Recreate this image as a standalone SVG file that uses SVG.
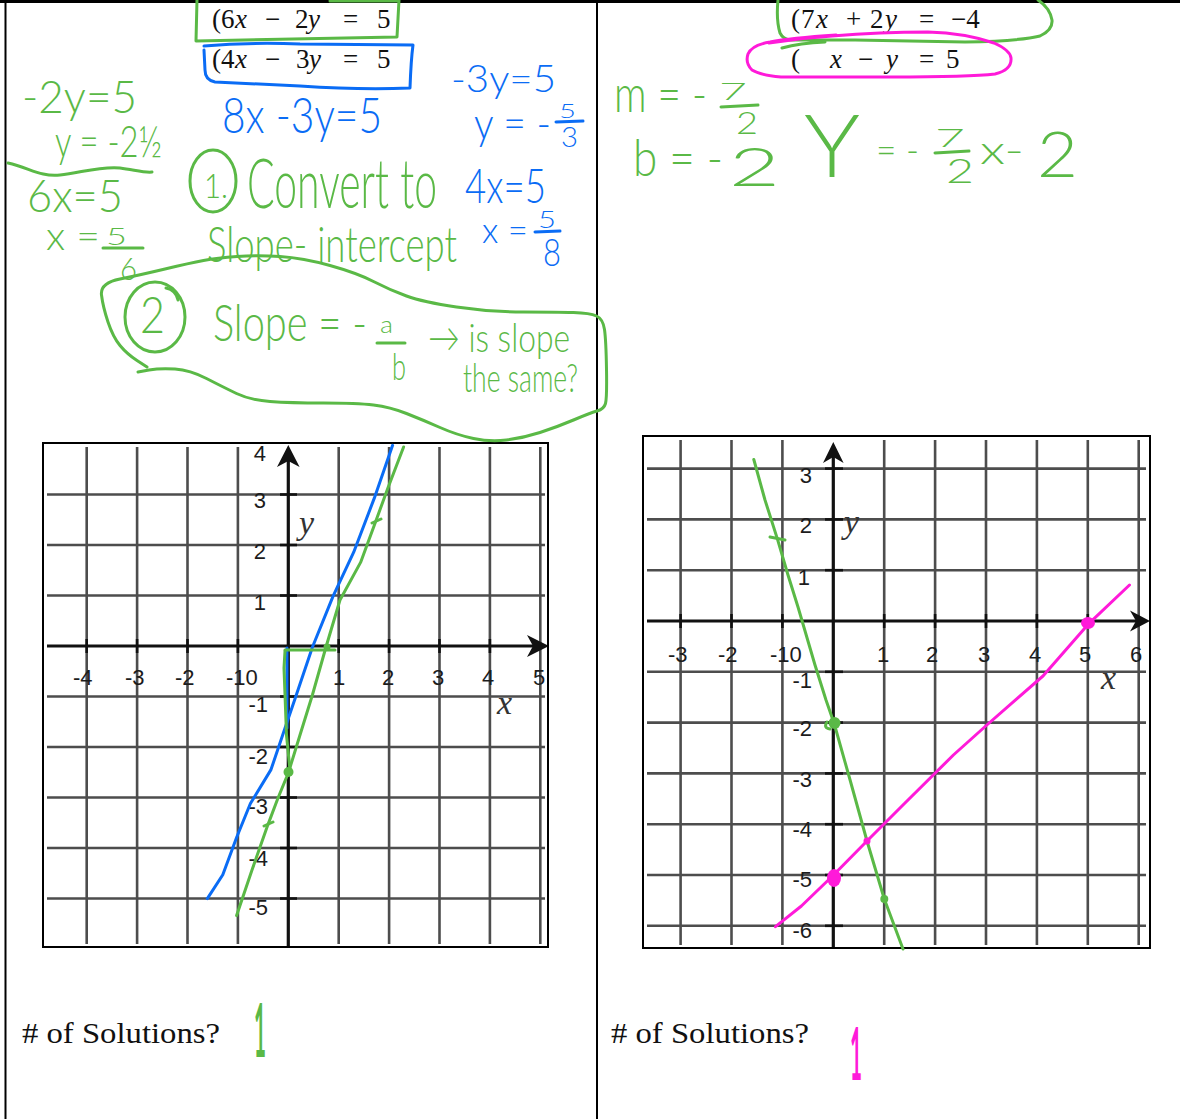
<svg xmlns="http://www.w3.org/2000/svg" width="1180" height="1119" viewBox="0 0 1180 1119">
<style>
.hw{font-family:Lato,"Open Sans","Liberation Sans",sans-serif;font-weight:300}
.g{fill:#5ab946}.b{fill:#0a6cf5}.m{fill:#ff1ad9}
.gs{fill:none;stroke:#5ab946;stroke-width:3;stroke-linecap:round;stroke-linejoin:round}
.bs{fill:none;stroke:#0a6cf5;stroke-width:3;stroke-linecap:round;stroke-linejoin:round}
.ms{fill:none;stroke:#ff1ad9;stroke-width:3;stroke-linecap:round;stroke-linejoin:round}
.grid{stroke:#3a3a3a;stroke-width:2.6;opacity:0.9}
.axis{stroke:#111;stroke-width:3.2}
.tick{stroke:#111;stroke-width:2.6}
.frame{fill:none;stroke:#000;stroke-width:2}
.lbl{font-family:"Liberation Sans",Arial,sans-serif;font-size:22px;fill:#1c1c1c}
.var{font-family:"Liberation Serif","Times New Roman",serif;font-style:italic;font-size:34px;fill:#333}
.eq{font-family:"Liberation Serif","Times New Roman",serif;font-size:27px;fill:#111}
.it{font-style:italic}
.sol{font-family:"Liberation Serif","Times New Roman",serif;font-size:30px;fill:#111}
.one{font-family:Lato,"Liberation Sans",sans-serif;font-weight:700}
</style>
<defs>
<clipPath id="clipL"><rect x="43" y="443" width="505" height="504"/></clipPath>
<clipPath id="clipR"><rect x="643" y="436" width="507" height="512"/></clipPath>
</defs>
<rect width="1180" height="1119" fill="#fff"/>

<g id="panel-borders" stroke="#000" fill="none">
<line x1="0" y1="1.5" x2="1180" y2="1.5" stroke-width="3"/>
<line x1="5.5" y1="0" x2="5.5" y2="1119" stroke-width="2"/>
<line x1="597" y1="0" x2="597" y2="1119" stroke-width="2"/>
</g>

<g id="equations-left">
<text class="eq" y="28"><tspan x="212">(</tspan><tspan x="221">6</tspan><tspan x="235" class="it">x</tspan><tspan x="265">−</tspan><tspan x="295">2</tspan><tspan x="308" class="it">y</tspan><tspan x="343">=</tspan><tspan x="377">5</tspan></text>
<text class="eq" y="68"><tspan x="212">(</tspan><tspan x="221">4</tspan><tspan x="235" class="it">x</tspan><tspan x="265">−</tspan><tspan x="296">3</tspan><tspan x="309" class="it">y</tspan><tspan x="343">=</tspan><tspan x="377">5</tspan></text>
</g>
<g id="equations-right">
<text class="eq" y="28"><tspan x="791">(</tspan><tspan x="801">7</tspan><tspan x="816" class="it">x</tspan><tspan x="846">+</tspan><tspan x="870">2</tspan><tspan x="885" class="it">y</tspan><tspan x="919">=</tspan><tspan x="951">−4</tspan></text>
<text class="eq" y="68"><tspan x="791">(</tspan><tspan x="830" class="it">x</tspan><tspan x="858">−</tspan><tspan x="886" class="it">y</tspan><tspan x="919">=</tspan><tspan x="946">5</tspan></text>
</g>

<!-- Left graph -->
<g id="graph-left">
<g clip-path="url(#clipL)">
<g class="grid">
<line x1="86.7" y1="447" x2="86.7" y2="944"/>
<line x1="137.1" y1="447" x2="137.1" y2="944"/>
<line x1="187.5" y1="447" x2="187.5" y2="944"/>
<line x1="237.9" y1="447" x2="237.9" y2="944"/>
<line x1="338.7" y1="447" x2="338.7" y2="944"/>
<line x1="389.1" y1="447" x2="389.1" y2="944"/>
<line x1="439.5" y1="447" x2="439.5" y2="944"/>
<line x1="489.9" y1="447" x2="489.9" y2="944"/>
<line x1="540.3" y1="447" x2="540.3" y2="944"/>
<line x1="47" y1="898.5" x2="545" y2="898.5"/>
<line x1="47" y1="848" x2="545" y2="848"/>
<line x1="47" y1="797.5" x2="545" y2="797.5"/>
<line x1="47" y1="747" x2="545" y2="747"/>
<line x1="47" y1="696.5" x2="545" y2="696.5"/>
<line x1="47" y1="595.5" x2="545" y2="595.5"/>
<line x1="47" y1="545" x2="545" y2="545"/>
<line x1="47" y1="494.5" x2="545" y2="494.5"/>
</g>
<line class="axis" x1="288.3" y1="455" x2="288.3" y2="947"/>
<line class="axis" x1="47" y1="646" x2="535" y2="646"/>
<g class="tick">
<line x1="280" y1="898.5" x2="297" y2="898.5"/><line x1="280" y1="848" x2="297" y2="848"/>
<line x1="280" y1="797.5" x2="297" y2="797.5"/><line x1="280" y1="747" x2="297" y2="747"/>
<line x1="280" y1="696.5" x2="297" y2="696.5"/><line x1="280" y1="595.5" x2="297" y2="595.5"/>
<line x1="280" y1="545" x2="297" y2="545"/><line x1="280" y1="494.5" x2="297" y2="494.5"/>
<line x1="86.7" y1="639" x2="86.7" y2="653"/><line x1="137.1" y1="639" x2="137.1" y2="653"/>
<line x1="187.5" y1="639" x2="187.5" y2="653"/><line x1="237.9" y1="639" x2="237.9" y2="653"/>
<line x1="338.7" y1="639" x2="338.7" y2="653"/><line x1="389.1" y1="639" x2="389.1" y2="653"/>
<line x1="439.5" y1="639" x2="439.5" y2="653"/><line x1="489.9" y1="639" x2="489.9" y2="653"/>
</g>
<path d="M288.3,445 L277,467 L288.3,461 L299.6,467 Z" fill="#111"/>
<path d="M549,646 L527,635 L533,646 L527,657 Z" fill="#111"/>
<g class="lbl">
<text x="73" y="685">-4</text><text x="125" y="685">-3</text><text x="175" y="685">-2</text>
<text x="226" y="685">-10</text><text x="333" y="685">1</text><text x="382" y="685">2</text>
<text x="432" y="685">3</text><text x="482" y="685">4</text><text x="533" y="685">5</text>
<text x="266" y="461" text-anchor="end">4</text>
<text x="266" y="508" text-anchor="end">3</text>
<text x="266" y="559" text-anchor="end">2</text>
<text x="266" y="610" text-anchor="end">1</text>
<text x="268" y="712" text-anchor="end">-1</text>
<text x="268" y="764" text-anchor="end">-2</text>
<text x="268" y="814" text-anchor="end">-3</text>
<text x="268" y="866" text-anchor="end">-4</text>
<text x="268" y="915" text-anchor="end">-5</text>
</g>
<text class="var" x="299" y="534">y</text>
<text class="var" x="497" y="714">x</text>
</g>
<rect class="frame" x="43" y="443" width="505" height="504"/>
</g>

<!-- Right graph -->
<g id="graph-right">
<g clip-path="url(#clipR)">
<g class="grid">
<line x1="680.6" y1="440" x2="680.6" y2="945"/>
<line x1="731.5" y1="440" x2="731.5" y2="945"/>
<line x1="782.4" y1="440" x2="782.4" y2="945"/>
<line x1="884.2" y1="440" x2="884.2" y2="945"/>
<line x1="935.1" y1="440" x2="935.1" y2="945"/>
<line x1="986" y1="440" x2="986" y2="945"/>
<line x1="1036.9" y1="440" x2="1036.9" y2="945"/>
<line x1="1087.8" y1="440" x2="1087.8" y2="945"/>
<line x1="1138.7" y1="440" x2="1138.7" y2="945"/>
<line x1="647" y1="925.8" x2="1146" y2="925.8"/>
<line x1="647" y1="875" x2="1146" y2="875"/>
<line x1="647" y1="824.2" x2="1146" y2="824.2"/>
<line x1="647" y1="773.4" x2="1146" y2="773.4"/>
<line x1="647" y1="722.6" x2="1146" y2="722.6"/>
<line x1="647" y1="671.8" x2="1146" y2="671.8"/>
<line x1="647" y1="570.2" x2="1146" y2="570.2"/>
<line x1="647" y1="519.4" x2="1146" y2="519.4"/>
<line x1="647" y1="468.6" x2="1146" y2="468.6"/>
</g>
<line class="axis" x1="833.3" y1="452" x2="833.3" y2="948"/>
<line class="axis" x1="647" y1="621" x2="1136" y2="621"/>
<g class="tick">
<line x1="825" y1="925.8" x2="843" y2="925.8"/><line x1="825" y1="875" x2="843" y2="875"/>
<line x1="825" y1="824.2" x2="843" y2="824.2"/><line x1="825" y1="773.4" x2="843" y2="773.4"/>
<line x1="825" y1="722.6" x2="843" y2="722.6"/><line x1="825" y1="671.8" x2="843" y2="671.8"/>
<line x1="825" y1="570.2" x2="843" y2="570.2"/><line x1="825" y1="519.4" x2="843" y2="519.4"/>
<line x1="825" y1="468.6" x2="843" y2="468.6"/>
<line x1="680.6" y1="614" x2="680.6" y2="628"/><line x1="731.5" y1="614" x2="731.5" y2="628"/>
<line x1="782.4" y1="614" x2="782.4" y2="628"/><line x1="884.2" y1="614" x2="884.2" y2="628"/>
<line x1="935.1" y1="614" x2="935.1" y2="628"/><line x1="986" y1="614" x2="986" y2="628"/>
<line x1="1036.9" y1="614" x2="1036.9" y2="628"/><line x1="1087.8" y1="614" x2="1087.8" y2="628"/>
</g>
<path d="M833.3,442 L823,463 L833.3,457 L843.6,463 Z" fill="#111"/>
<path d="M1150,621 L1130,610.5 L1136,621 L1130,631.5 Z" fill="#111"/>
<g class="lbl">
<text x="668" y="662">-3</text><text x="718" y="662">-2</text><text x="770" y="662">-10</text>
<text x="877" y="662">1</text><text x="926" y="662">2</text><text x="978" y="662">3</text>
<text x="1029" y="662">4</text><text x="1079" y="662">5</text><text x="1130" y="662">6</text>
<text x="812" y="483" text-anchor="end">3</text>
<text x="812" y="533" text-anchor="end">2</text>
<text x="810" y="585" text-anchor="end">1</text>
<text x="812" y="688" text-anchor="end">-1</text>
<text x="812" y="736" text-anchor="end">-2</text>
<text x="812" y="787" text-anchor="end">-3</text>
<text x="812" y="837" text-anchor="end">-4</text>
<text x="812" y="887" text-anchor="end">-5</text>
<text x="812" y="938" text-anchor="end">-6</text>
</g>
<text class="var" x="844" y="533">y</text>
<text class="var" x="1101" y="689">x</text>
</g>
<rect class="frame" x="643" y="436" width="507" height="512"/>
</g>

<!-- Left handwritten work -->
<g id="left-boxes">
<path class="gs" d="M197,0 L196,41 L397,37 L399,0 M330,1 L399,1"/>
<path class="bs" d="M204,46 Q250,42 300,44 L413,45 Q411,60 410,88 Q360,90 300,86 L215,82 Q205,80 205,70 L204,50"/>
</g>

<g id="left-green-work">
<text class="hw g" x="22" y="113" font-size="46" textLength="115" lengthAdjust="spacingAndGlyphs">-2y=5</text>
<text class="hw g" x="55" y="157" font-size="44" textLength="107" lengthAdjust="spacingAndGlyphs">y = -2½</text>
<path class="gs" d="M8,163 C30,168 40,177 60,175 C80,173 100,166 120,168 C135,170 145,173 152,172"/>
<text class="hw g" x="27" y="212" font-size="46" textLength="96" lengthAdjust="spacingAndGlyphs">6x=5</text>
<text class="hw g" x="46" y="250" font-size="40" textLength="54" lengthAdjust="spacingAndGlyphs">x =</text>
<text class="hw g" x="106" y="245" font-size="24" textLength="21" lengthAdjust="spacingAndGlyphs">5</text>
<line class="gs" x1="103" y1="248" x2="143" y2="248"/>
<text class="hw g" x="120" y="280" font-size="32" textLength="17" lengthAdjust="spacingAndGlyphs">6</text>
</g>

<g id="step1">
<ellipse class="gs" cx="213" cy="181" rx="23" ry="31"/>
<text class="hw g" x="204" y="198" font-size="34" textLength="24" lengthAdjust="spacingAndGlyphs">1.</text>
<text class="hw g" x="247" y="208" font-size="68" textLength="190" lengthAdjust="spacingAndGlyphs">Convert to</text>
<text class="hw g" x="207" y="262" font-size="50" textLength="250" lengthAdjust="spacingAndGlyphs">Slope- intercept</text>
</g>

<g id="step2">
<path class="gs" d="M138,372 L149,370 Q160,368 175,369 Q190,370 206.5,378.5 Q223,387 236.5,393.5 Q250,400 270,401.5 Q290,403 323.5,403 Q357,403 373.5,405 Q390,407 406.5,413.5 Q423,420 440,427.5 Q457,435 473.5,438.5 Q490,442 506.5,440 Q523,438 540,432.5 Q557,427 573.5,420 Q590,413 597,411 Q604,409 605.5,403.5 Q607,398 606.5,369 Q606,340 604.5,329.5 Q603,319 596.5,316 Q590,313 573.5,312.5 Q557,312 523.5,312 Q490,312 456.5,307 Q423,302 406.5,296 Q390,290 373.5,281.5 Q357,273 330,265.5 Q303,258 280,256.5 Q257,255 237,256.5 Q217,258 203.5,260.5 Q190,263 165,269 Q140,275 120,279 Q100,283 101.5,295 Q103,307 108,322 Q113,337 120,345.5 Q127,354 137,360.5 L147,367"/>
<ellipse class="gs" cx="155" cy="317" rx="30" ry="35"/>
<path class="gs" d="M166,288 Q176,290 178,300"/>
<text class="hw g" x="140" y="333" font-size="52" textLength="25" lengthAdjust="spacingAndGlyphs">2</text>
<text class="hw g" x="213" y="341" font-size="52" textLength="154" lengthAdjust="spacingAndGlyphs">Slope = -</text>
<text class="hw g" x="380" y="333" font-size="24" textLength="13" lengthAdjust="spacingAndGlyphs">a</text>
<line class="gs" x1="377" y1="343" x2="405" y2="343"/>
<text class="hw g" x="392" y="380" font-size="38" textLength="14" lengthAdjust="spacingAndGlyphs">b</text>
<text class="hw g" x="428" y="352" font-size="40" textLength="142" lengthAdjust="spacingAndGlyphs">→ is slope</text>
<text class="hw g" x="463" y="392" font-size="40" textLength="115" lengthAdjust="spacingAndGlyphs">the same?</text>
</g>

<g id="left-blue-work">
<text class="hw b" x="222" y="133" font-size="50" textLength="160" lengthAdjust="spacingAndGlyphs">8x -3y=5</text>
<text class="hw b" x="451" y="92" font-size="38" textLength="105" lengthAdjust="spacingAndGlyphs">-3y=5</text>
<text class="hw b" x="474" y="139" font-size="44" textLength="77" lengthAdjust="spacingAndGlyphs">y = -</text>
<text class="hw b" x="559" y="118" font-size="20" textLength="17" lengthAdjust="spacingAndGlyphs">5</text>
<line class="bs" x1="556" y1="122" x2="583" y2="121"/>
<text class="hw b" x="561" y="147" font-size="28" textLength="17" lengthAdjust="spacingAndGlyphs">3</text>
<text class="hw b" x="465" y="203" font-size="48" textLength="81" lengthAdjust="spacingAndGlyphs">4x=5</text>
<text class="hw b" x="482" y="243" font-size="36" textLength="46" lengthAdjust="spacingAndGlyphs">x =</text>
<text class="hw b" x="538" y="228" font-size="24" textLength="18" lengthAdjust="spacingAndGlyphs">5</text>
<line class="bs" x1="535" y1="232" x2="560" y2="231"/>
<text class="hw b" x="543" y="266" font-size="38" textLength="18" lengthAdjust="spacingAndGlyphs">8</text>
</g>

<!-- Right handwritten work -->
<g id="right-loops">
<path class="gs" d="M778,0 Q776,20 780,33 Q783,39 790,40 L855,40 L965,42 Q1020,41 1040,36 Q1053,30 1052,20 Q1050,8 1038,0 M782,48 Q800,43 825,42"/>
<path class="ms" d="M769,43 Q800,38 832,36 Q880,32 928,32 Q965,33 994,43 Q1010,50 1011,58 Q1012,70 995,74 Q970,77 891,77 Q820,77 781,77 Q760,75 752,70 Q745,63 748,54 Q752,45 770,42 Q790,38 836,35"/>
</g>

<g id="right-green-work">
<text class="hw g" x="614" y="112" font-size="52" textLength="93" lengthAdjust="spacingAndGlyphs">m = -</text>
<text class="hw g" x="719" y="100" font-size="24" textLength="28" lengthAdjust="spacingAndGlyphs">7</text>
<line class="gs" x1="721" y1="107" x2="758" y2="105"/>
<text class="hw g" x="736" y="134" font-size="32" textLength="22" lengthAdjust="spacingAndGlyphs">2</text>
<text class="hw g" x="633" y="176" font-size="52" textLength="90" lengthAdjust="spacingAndGlyphs">b = -</text>
<text class="hw g" x="729" y="186" font-size="54" textLength="51" lengthAdjust="spacingAndGlyphs">2</text>
<text class="hw g" x="804" y="177" font-size="86" textLength="56" lengthAdjust="spacingAndGlyphs">Y</text>
<text class="hw g" x="876" y="164" font-size="40" textLength="43" lengthAdjust="spacingAndGlyphs">= -</text>
<text class="hw g" x="935" y="147" font-size="26" textLength="30" lengthAdjust="spacingAndGlyphs">7</text>
<line class="gs" x1="935" y1="153" x2="969" y2="151"/>
<text class="hw g" x="946" y="183" font-size="34" textLength="28" lengthAdjust="spacingAndGlyphs">2</text>
<text class="hw g" x="980" y="164" font-size="40" textLength="44" lengthAdjust="spacingAndGlyphs">x-</text>
<text class="hw g" x="1037" y="177" font-size="64" textLength="41" lengthAdjust="spacingAndGlyphs">2</text>
</g>

<!-- Lines drawn on graphs -->
<g id="graph-lines">
<polyline class="bs" stroke-width="2.6" points="207.3,898.6 222.8,874.8 236.6,837.5 250.4,803.5 271,769.6 284.8,728.8 295.2,698.2 312.4,647.3 333,596.4 353.7,552.2 374.4,497.9 392.6,445.3"/>
<line class="bs" stroke-width="2.6" x1="287" y1="648" x2="287" y2="728"/>
<polyline class="gs" stroke-width="2.6" points="236.6,915.6 252,870 267.6,825.6 278,798 288.3,773 300,735 312.4,695 326,647 340,600 360.6,562.4 374.4,525 388,487.7 403.6,447"/>
<path class="gs" stroke-width="4" d="M285,650 L335,650"/>
<path class="gs" stroke-width="3.5" d="M285,651 L284,668 L286.5,735 L290,770"/>
<circle cx="288.5" cy="772" r="5" fill="#5ab946"/>
<circle cx="327" cy="647" r="3.5" fill="#5ab946"/>
<path class="gs" d="M264,826 L273,822 M372,523 L381,519"/>

<polyline class="gs" stroke-width="2.6" points="753.8,459.5 765,500 777.3,538.6 788,575 798,607 815,665 826,700 834.3,724 849.8,779 867,841 884.3,899 903,949"/>
<path class="gs" d="M770,537 L785,540 M827,722 Q823,728 830,729"/>
<circle cx="834.5" cy="723" r="6" fill="#5ab946"/>
<circle cx="884.3" cy="899" r="4" fill="#5ab946"/>
<polyline class="ms" stroke-width="2.6" points="775.5,926.7 801.4,906 832.5,876 867,841 905,803 953.4,755 988,724 1043,676 1088,624.4 1129.5,585"/>
<ellipse cx="1088" cy="623" rx="7" ry="6" fill="#ff1ad9"/>
<ellipse cx="834" cy="878" rx="7" ry="9" fill="#ff1ad9"/>
<circle cx="867" cy="841" r="3.5" fill="#ff1ad9"/>
</g>

<g id="solutions-left">
<text class="sol" x="22" y="1043" textLength="198" lengthAdjust="spacingAndGlyphs"># of Solutions?</text>
<text class="one g" x="254" y="1057" font-size="74" textLength="12" lengthAdjust="spacingAndGlyphs">1</text>
</g>
<g id="solutions-right">
<text class="sol" x="611" y="1043" textLength="198" lengthAdjust="spacingAndGlyphs"># of Solutions?</text>
<text class="one m" x="850" y="1080" font-size="72" textLength="12" lengthAdjust="spacingAndGlyphs">1</text>
</g>
</svg>
